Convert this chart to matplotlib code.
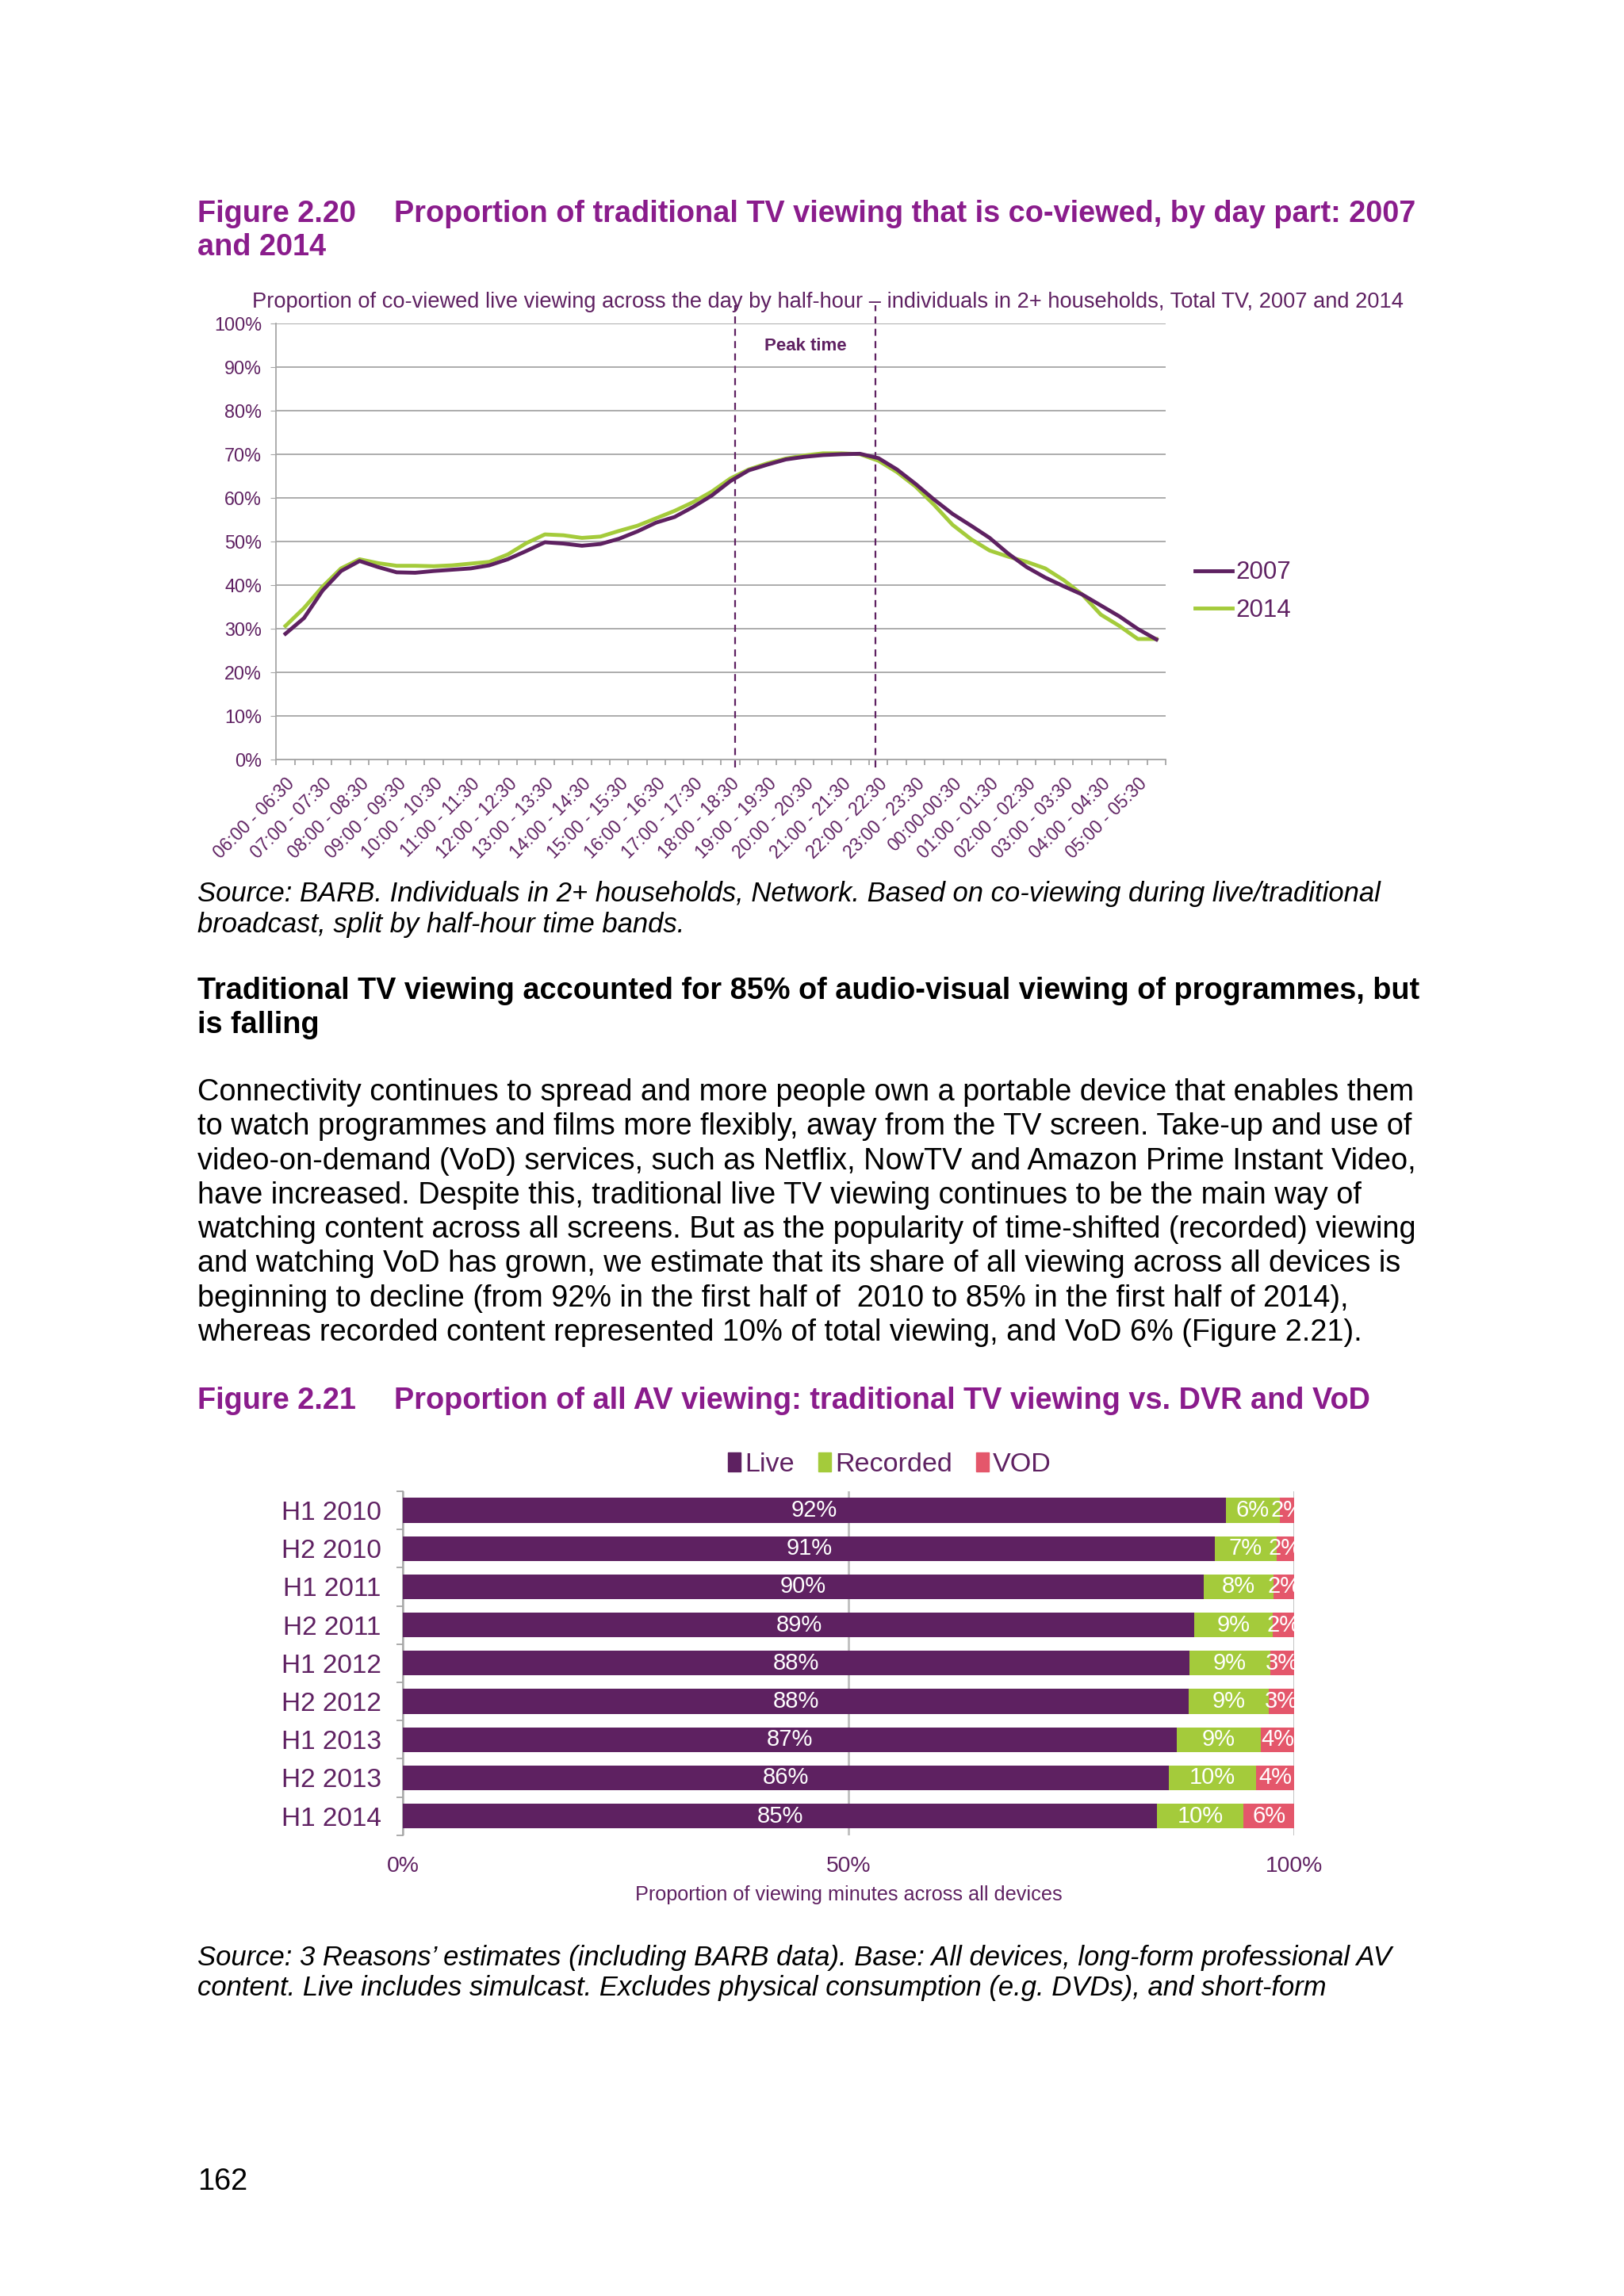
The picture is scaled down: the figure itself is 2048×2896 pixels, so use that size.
import numpy as np
import matplotlib
matplotlib.use('Agg')
import matplotlib.pyplot as plt
from matplotlib.lines import Line2D
from matplotlib.patches import Patch

plt.rcParams['font.family'] = ['Liberation Sans', 'DejaVu Sans']

# --- Figure 2.20 data: co-viewed share by half-hour (06:00 ... 05:30) ---
hour_labels = ['06:00 - 06:30', '07:00 - 07:30', '08:00 - 08:30', '09:00 - 09:30',
               '10:00 - 10:30', '11:00 - 11:30', '12:00 - 12:30', '13:00 - 13:30',
               '14:00 - 14:30', '15:00 - 15:30', '16:00 - 16:30', '17:00 - 17:30',
               '18:00 - 18:30', '19:00 - 19:30', '20:00 - 20:30', '21:00 - 21:30',
               '22:00 - 22:30', '23:00 - 23:30', '00:00-00:30', '01:00 - 01:30',
               '02:00 - 02:30', '03:00 - 03:30', '04:00 - 04:30', '05:00 - 05:30']
co_view_2007 = [28.8, 32.4, 38.7, 43.2, 45.5, 44.1, 42.9, 42.8, 43.2, 43.5, 43.8, 44.5,
                45.9, 47.8, 49.8, 49.5, 49.0, 49.4, 50.6, 52.3, 54.3, 55.6, 57.9, 60.5,
                63.8, 66.3, 67.6, 68.8, 69.4, 69.8, 70.0, 70.1, 69.1, 66.5, 63.2, 59.6,
                56.3, 53.6, 50.8, 47.2, 44.1, 41.7, 39.7, 37.8, 35.3, 32.8, 29.9, 27.5]
co_view_2014 = [30.6, 34.7, 39.6, 43.8, 45.9, 45.0, 44.4, 44.4, 44.3, 44.5, 44.9, 45.3,
                47.0, 49.6, 51.6, 51.4, 50.8, 51.1, 52.4, 53.6, 55.3, 57.0, 59.0, 61.4,
                64.4, 66.5, 67.9, 69.0, 69.7, 70.2, 70.2, 70.0, 68.5, 65.9, 62.6, 58.4,
                53.8, 50.5, 47.9, 46.5, 45.3, 43.8, 41.1, 37.8, 33.2, 30.6, 27.6, 27.6]
peak_start = 24.26   # half-hour slot position of the dashed markers
peak_end = 31.85

# --- Figure 2.21 data ---
periods = ['H1 2010', 'H2 2010', 'H1 2011', 'H2 2011', 'H1 2012',
           'H2 2012', 'H1 2013', 'H2 2013', 'H1 2014']
live = [92.3, 91.1, 89.8, 88.8, 88.2, 88.1, 86.8, 85.9, 84.6]
recorded = [6.1, 6.9, 7.9, 8.8, 9.1, 9.0, 9.4, 9.8, 9.7]
vod = [1.6, 2.0, 2.3, 2.4, 2.7, 2.9, 3.8, 4.3, 5.7]

TITLE = '#8A1C8C'
CHART_TXT = '#5F2162'
PURPLE = '#5E2161'
GREEN = '#A4CB3B'
PINK = '#E4576B'
GRID = '#A6A6A6'

W, H = 2048, 2896
fig = plt.figure(figsize=(W / 100, H / 100), dpi=100)


def page_text(x, y, s, **kw):
    fig.text(x / W, 1 - y / H, s, va='center', **kw)


# ---------------- page text ----------------
BIG = 27.3
SRC = 24.9
page_text(249, 270, 'Figure 2.20', fontsize=BIG, fontweight='bold', color=TITLE)
page_text(497, 270, 'Proportion of traditional TV viewing that is co-viewed, by day part: 2007',
          fontsize=BIG, fontweight='bold', color=TITLE)
page_text(249, 312, 'and 2014', fontsize=BIG, fontweight='bold', color=TITLE)

page_text(249, 1127, 'Source: BARB. Individuals in 2+ households, Network. Based on co-viewing during live/traditional',
          fontsize=SRC, style='italic', color='black')
page_text(249, 1166, 'broadcast, split by half-hour time bands.', fontsize=SRC, style='italic', color='black')

page_text(249, 1250, 'Traditional TV viewing accounted for 85% of audio-visual viewing of programmes, but',
          fontsize=BIG, fontweight='bold', color='black')
page_text(249, 1293, 'is falling', fontsize=BIG, fontweight='bold', color='black')

body = [
    'Connectivity continues to spread and more people own a portable device that enables them',
    'to watch programmes and films more flexibly, away from the TV screen. Take-up and use of',
    'video-on-demand (VoD) services, such as Netflix, NowTV and Amazon Prime Instant Video,',
    'have increased. Despite this, traditional live TV viewing continues to be the main way of',
    'watching content across all screens. But as the popularity of time-shifted (recorded) viewing',
    'and watching VoD has grown, we estimate that its share of all viewing across all devices is',
    'beginning to decline (from 92% in the first half of  2010 to 85% in the first half of 2014),',
    'whereas recorded content represented 10% of total viewing, and VoD 6% (Figure 2.21).',
]
for k, line in enumerate(body):
    page_text(249, 1378 + 43.3 * k, line, fontsize=BIG, color='black')

page_text(249, 1767, 'Figure 2.21', fontsize=BIG, fontweight='bold', color=TITLE)
page_text(497, 1767, 'Proportion of all AV viewing: traditional TV viewing vs. DVR and VoD',
          fontsize=BIG, fontweight='bold', color=TITLE)

page_text(249, 2469, 'Source: 3 Reasons\u2019 estimates (including BARB data). Base: All devices, long-form professional AV',
          fontsize=SRC, style='italic', color='black')
page_text(249, 2508, 'content. Live includes simulcast. Excludes physical consumption (e.g. DVDs), and short-form',
          fontsize=SRC, style='italic', color='black')

page_text(249, 2752, '162', fontsize=BIG, color='black')

# ---------------- Figure 2.20: line chart ----------------
ax1 = fig.add_axes([348.3 / W, 1 - 957.7 / H, 1121.7 / W, 549.7 / H])
x = np.arange(len(co_view_2007))
ax1.plot(x, co_view_2007, color=PURPLE, lw=3.5, label='2007', zorder=4, solid_joinstyle='round')
ax1.plot(x, co_view_2014, color=GREEN, lw=3.5, label='2014', zorder=3, solid_joinstyle='round')

ax1.set_xlim(-0.5, len(x) - 0.5)
ax1.set_ylim(0, 100)
ax1.set_yticks(np.arange(0, 101, 10))
ax1.set_yticklabels([f'{v}%' for v in range(0, 101, 10)])
ax1.yaxis.grid(True, color=GRID, lw=1.3)
ax1.set_axisbelow(True)
for side in ['top', 'right']:
    ax1.spines[side].set_visible(False)
for side in ['left', 'bottom']:
    ax1.spines[side].set_color(GRID)
    ax1.spines[side].set_linewidth(1.3)
ax1.tick_params(axis='y', colors=GRID, labelcolor=CHART_TXT, labelsize=16.8, length=5, pad=8)

ax1.set_xticks(np.arange(0, len(x), 2))
ax1.set_xticklabels(hour_labels, rotation=45, ha='right', rotation_mode='anchor')
ax1.set_xticks(np.arange(-0.5, len(x), 1), minor=True)
ax1.tick_params(axis='x', which='major', length=0, pad=14, labelcolor=CHART_TXT, labelsize=16.3)
ax1.tick_params(axis='x', which='minor', length=5, color=GRID, width=1.3)

for xp in (peak_start, peak_end):
    ax1.plot([xp, xp], [-1.9, 104.1], color=PURPLE, lw=1.6, ls=(0, (4, 3)),
             clip_on=False, zorder=5)
ax1.text((peak_start + peak_end) / 2, 94.9, 'Peak time', ha='center', va='center',
         fontsize=16, fontweight='bold', color=CHART_TXT)

page_text(1044, 381, 'Proportion of co-viewed live viewing across the day by half-hour \u2013 individuals in 2+ households, Total TV, 2007 and 2014',
          fontsize=19.6, color=CHART_TXT, ha='center')

ax1.legend(handles=[Line2D([], [], color=PURPLE, lw=3.5), Line2D([], [], color=GREEN, lw=3.5)],
           labels=['2007', '2014'], loc='center left', bbox_to_anchor=(1.008, 0.385),
           frameon=False, fontsize=22.5, handlelength=1.5, handletextpad=0.15,
           labelspacing=0.55, labelcolor=CHART_TXT)

# ---------------- Figure 2.21: stacked bars ----------------
ax2 = fig.add_axes([508.4 / W, 1 - 2314.7 / H, 1123.9 / W, 433.8 / H])
y = np.arange(len(periods))
bh = 0.65
series = [(live, PURPLE, 'Live'), (recorded, GREEN, 'Recorded'), (vod, PINK, 'VOD')]
left = np.zeros(len(periods))
for vals, col, name in series:
    vals = np.array(vals)
    ax2.barh(y, vals, left=left, height=bh, color=col, label=name, zorder=3)
    for yi, (l, v) in enumerate(zip(left, vals)):
        ax2.text(l + v / 2, yi, f'{round(v)}%', ha='center', va='center',
                 color='white', fontsize=21, zorder=4, clip_on=True)
    left = left + vals

ax2.set_xlim(0, 100)
ax2.set_ylim(len(periods) - 0.5, -0.5)
ax2.set_xticks([0, 50, 100])
ax2.set_xticklabels(['0%', '50%', '100%'])
ax2.xaxis.grid(True, color='#BFBFBF', lw=2)
ax2.set_axisbelow(True)
for side in ['top', 'right', 'bottom']:
    ax2.spines[side].set_visible(False)
ax2.spines['left'].set_color(GRID)
ax2.spines['left'].set_linewidth(1.3)
ax2.tick_params(axis='x', length=0, pad=19, labelcolor=CHART_TXT, labelsize=20.3)
ax2.set_yticks(y)
ax2.set_yticklabels(periods)
ax2.set_yticks(np.arange(-0.5, len(periods), 1), minor=True)
ax2.tick_params(axis='y', which='major', length=0, pad=20, labelcolor=CHART_TXT, labelsize=24)
ax2.tick_params(axis='y', which='minor', length=6, color=GRID, width=1.3)
ax2.set_xlabel('Proportion of viewing minutes across all devices', fontsize=18.2,
               color=CHART_TXT, labelpad=8)

fig.legend(handles=[Patch(color=c) for _, c, _ in series], labels=[n for _, _, n in series],
           loc='center', bbox_to_anchor=(1122 / W, 1 - 1847 / H), ncol=3, frameon=False,
           fontsize=24.6, handlelength=0.45, handleheight=0.7, handletextpad=0.15,
           columnspacing=0.9, labelcolor=CHART_TXT)

fig.savefig('out.png', dpi=100, facecolor='white')
